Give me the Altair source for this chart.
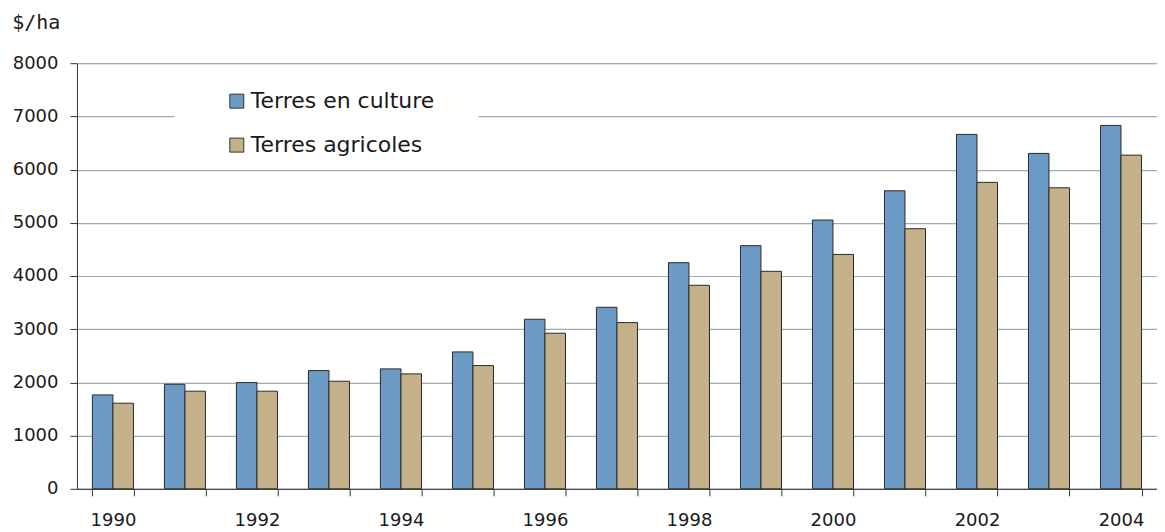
import altair as alt
import pandas as pd

years = [str(y) for y in range(1990, 2005)]
series_names = ["Terres en culture", "Terres agricoles"]
terres_en_culture = [1765, 1965, 1997, 2222, 2254, 2573, 3187, 3412, 4250, 4570, 5052, 5602, 6661, 6304, 6830]
terres_agricoles = [1609, 1835, 1835, 2022, 2160, 2316, 2924, 3124, 3825, 4088, 4405, 4888, 5760, 5658, 6272]
y_ticks = [0, 1000, 2000, 3000, 4000, 5000, 6000, 7000, 8000]
colors = ["#6b9ac4", "#c4b18a"]

rows = []
for i, yr in enumerate(years):
    rows.append({"annee": yr, "serie": series_names[0], "valeur": terres_en_culture[i]})
    rows.append({"annee": yr, "serie": series_names[1], "valeur": terres_agricoles[i]})
df = pd.DataFrame(rows)

FONT = "DejaVu Sans"

chart = alt.Chart(df).mark_bar(stroke="#2a2a2a", strokeWidth=1).encode(
    x=alt.X(
        "annee:O",
        sort=years,
        title=None,
        scale=alt.Scale(paddingInner=0.43, paddingOuter=0.215),
        axis=alt.Axis(
            tickBand="extent",
            labelExpr="toNumber(datum.value) % 2 == 0 ? datum.label : ''",
            labelOverlap=False,
            labelAngle=0,
            labelFont=FONT,
            labelFontSize=18,
            labelColor="#1a1a1a",
            labelPadding=16,
            tickSize=7,
            tickColor="#333333",
            domainColor="#333333",
            grid=False,
        ),
    ),
    xOffset=alt.XOffset("serie:N", sort=series_names, scale=alt.Scale(paddingInner=0, paddingOuter=0)),
    y=alt.Y(
        "valeur:Q",
        title=None,
        scale=alt.Scale(domain=[0, 8000], nice=False),
        axis=alt.Axis(
            values=y_ticks,
            format="d",
            labelFont=FONT,
            labelFontSize=18,
            labelColor="#1a1a1a",
            labelPadding=12,
            tickSize=7,
            tickColor="#333333",
            domainColor="#333333",
            gridColor="#a3a9b0",
            gridWidth=1.2,
        ),
    ),
    color=alt.Color(
        "serie:N",
        sort=series_names,
        scale=alt.Scale(domain=series_names, range=colors),
        legend=alt.Legend(
            title=None,
            orient="none",
            legendX=98,
            legendY=15,
            fillColor="white",
            padding=12,
            symbolType="square",
            symbolSize=196,
            symbolStrokeColor="#333333",
            symbolStrokeWidth=1,
            symbolOffset=39,
            labelFont=FONT,
            labelFontSize=22,
            labelColor="#1a1a1a",
            labelOffset=3,
            labelLimit=500,
            rowPadding=22,
            labelExpr="datum.label + '\u2800\u2800'",
        ),
    ),
).properties(
    width=1081,
    height=426,
    title=alt.Title(
        "$/ha",
        anchor="start",
        font="DejaVu Sans Mono",
        fontSize=20,
        fontWeight="normal",
        color="#1a1a1a",
        offset=21,
    ),
    padding={"left": 4, "top": 5, "right": 0, "bottom": 0},
).configure_view(
    stroke="#9aa0a8", strokeWidth=1.5
).configure(background="white")

chart.save("out.html", embed_options={"renderer": "svg", "actions": False})
